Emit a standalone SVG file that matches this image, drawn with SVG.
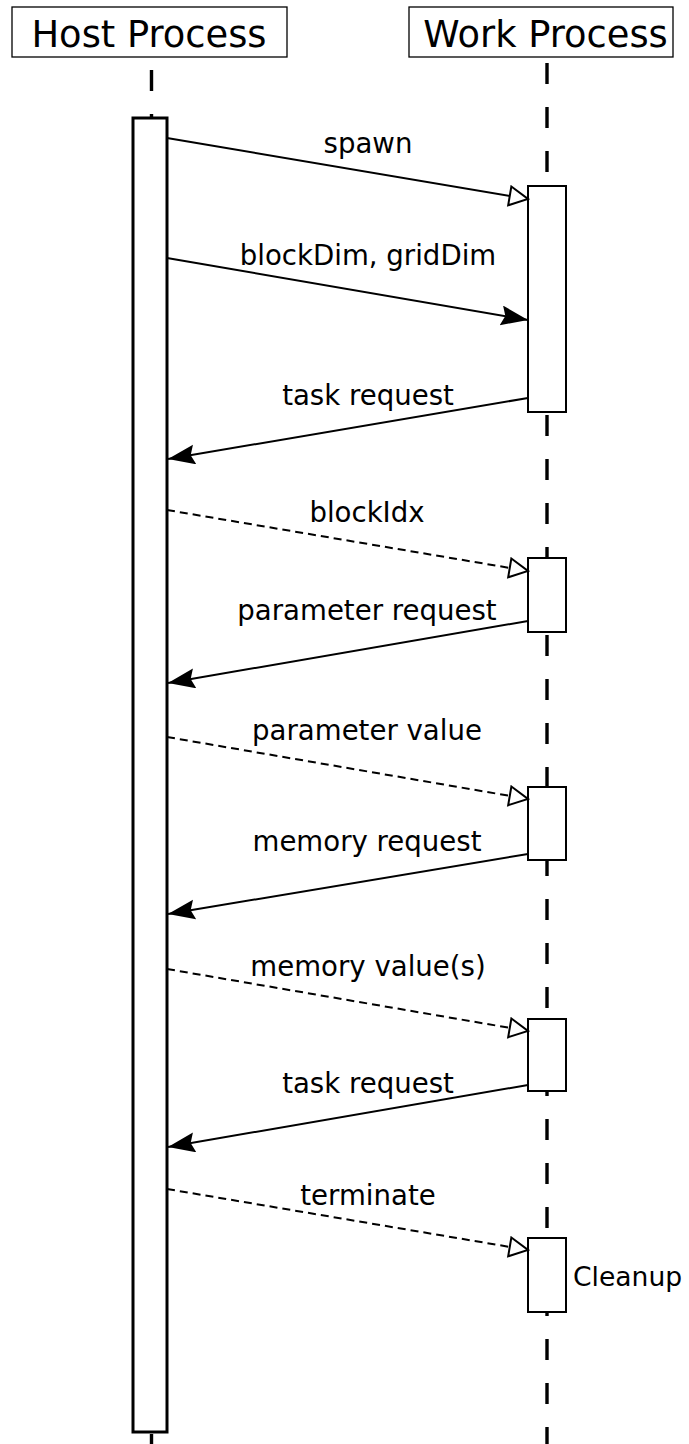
<svg xmlns="http://www.w3.org/2000/svg" width="689" height="1444" viewBox="0 0 689 1444">
<defs>
<style>
.title{font-family:"DejaVu Sans",sans-serif;font-size:36.8px;fill:#000;text-anchor:middle}
.lbl{font-family:"DejaVu Sans",sans-serif;font-size:27.6px;fill:#000;text-anchor:middle}
.head{fill:#fff;stroke:#000;stroke-width:1.3}
.life{stroke:#000;stroke-width:3.4;fill:none;stroke-dasharray:21 23}
.bar{fill:#fff;stroke:#000;stroke-width:3}
.act{fill:#fff;stroke:#000;stroke-width:2}
.msg{stroke:#000;stroke-width:2;fill:none}
.dash{stroke-dasharray:8 5}
.sync{marker-end:url(#filled)}
.async{marker-end:url(#open)}
</style>
<marker id="filled" markerUnits="userSpaceOnUse" markerWidth="30" markerHeight="22" refX="27" refY="10" orient="auto">
<path d="M0,0 L27,10 L0,20 L4,10 Z" fill="#000"/>
</marker>
<marker id="open" markerUnits="userSpaceOnUse" markerWidth="24" markerHeight="24" refX="20" refY="11" orient="auto">
<path d="M1.5,1.5 L20,11 L1.5,20.5 Z" fill="#fff" stroke="#000" stroke-width="2"/>
</marker>
</defs>

<g id="host">
<rect class="head" x="12" y="7" width="275" height="50"/>
<text class="title" x="149" y="47">Host Process</text>
<line class="life" x1="151.5" y1="70" x2="151.5" y2="1444"/>
<rect class="bar" x="133" y="118" width="34" height="1314"/>
</g>

<g id="work">
<rect class="head" x="409" y="7" width="264" height="50"/>
<text class="title" x="545.5" y="47">Work Process</text>
<line class="life" x1="547" y1="63" x2="547" y2="1444"/>
<rect class="act" x="528" y="186" width="38" height="226"/>
<rect class="act" x="528" y="558" width="38" height="74"/>
<rect class="act" x="528" y="787" width="38" height="73"/>
<rect class="act" x="528" y="1019" width="38" height="72"/>
<rect class="act" x="528" y="1238" width="38" height="74"/>
<text x="573" y="1286" font-family="DejaVu Sans, sans-serif" font-size="26.6">Cleanup</text>
</g>

<g id="connectors">
<line class="msg async" x1="167" y1="138" x2="528" y2="199"/>
<line class="msg sync" x1="167" y1="258" x2="528" y2="320"/>
<line class="msg sync" x1="528" y1="398" x2="168" y2="459"/>
<line class="msg dash async" x1="167" y1="510" x2="528" y2="571"/>
<line class="msg sync" x1="528" y1="621" x2="168" y2="683"/>
<line class="msg dash async" x1="167" y1="737" x2="528" y2="799"/>
<line class="msg sync" x1="528" y1="854" x2="168" y2="914"/>
<line class="msg dash async" x1="167" y1="969" x2="528" y2="1031"/>
<line class="msg sync" x1="528" y1="1085" x2="168" y2="1147"/>
<line class="msg dash async" x1="167" y1="1189" x2="528" y2="1250"/>
</g>

<g id="labels">
<text class="lbl" x="368" y="153">spawn</text>
<text class="lbl" x="368" y="265">blockDim, gridDim</text>
<text class="lbl" x="368" y="405">task request</text>
<text class="lbl" x="367" y="522">blockIdx</text>
<text class="lbl" x="367" y="620">parameter request</text>
<text class="lbl" x="367" y="740">parameter value</text>
<text class="lbl" x="367" y="851">memory request</text>
<text class="lbl" x="368" y="976">memory value(s)</text>
<text class="lbl" x="368" y="1093">task request</text>
<text class="lbl" x="368" y="1205">terminate</text>
</g>
</svg>
